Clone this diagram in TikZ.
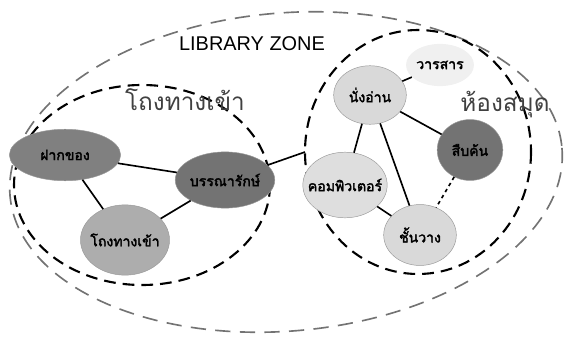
\documentclass[tikz,border=0pt]{standalone}
\usepackage{fontspec}
\newfontfamily\thaifont[Script=Thai,AutoFakeBold=2.5]{Loma}
\setmainfont{Liberation Sans}
\usetikzlibrary{shapes.geometric,positioning}
\newcommand{\spottext}[1]{\makebox[0pt]{#1}}
\tikzset{
  zone/.style={line width=1.8pt,dash pattern=on 10pt off 6pt},
  outerzone/.style={draw=black!55,line width=1.4pt,dash pattern=on 13pt off 8pt},
  spot/.style={ellipse,draw=black!40,thin,inner sep=0pt,font=\thaifont\bfseries\large},
  link/.style={line width=1.4pt}
}
\begin{document}
\begin{tikzpicture}[x=0.03cm,y=-0.03cm]
\useasboundingbox (0,0) rectangle (570,339);
% zones
\draw[outerzone,rotate around={5:(286,172)}] (286,172) ellipse (277 and 159);
\draw[zone] (142,185) ellipse (128 and 100);
\draw[zone] (418,152) ellipse (113 and 122);
\node[fill=white,inner sep=1pt,font=\fontsize{17}{20}\selectfont] (libzone) at (252,44) {LIBRARY ZONE};
\node[font=\thaifont\huge,text=black!75] (lobbylbl) at (185,100) {โถงทางเข้า};
\node[font=\thaifont\huge,text=black!75] (librarylbl) at (505,105) {ห้องสมุด};
% lobby
\node[spot,fill=black!50,minimum width=95,minimum height=44] (deposit) at (65,155) {\spottext{ฝากของ}};
\node[spot,fill=black!55,minimum width=85,minimum height=48] (librarian) at (225,180) {\spottext{บรรณารักษ์}};
\node[spot,fill=black!32,minimum width=76,minimum height=60] (entrance) at (125,240) {\spottext{โถงทางเข้า}};
% library
\node[spot,fill=black!15,minimum width=62,minimum height=50] (reading) at (370,95) {\spottext{นั่งอ่าน}};
\node[spot,fill=black!6,draw=none,minimum width=58,minimum height=36] (journal) at (440,65) {\spottext{วารสาร}};
\node[spot,fill=black!55,minimum width=56,minimum height=52] (search) at (470,150) {\spottext{สืบค้น}};
\node[spot,fill=black!13,minimum width=72,minimum height=56] (computer) at (345,185) {\spottext{คอมพิวเตอร์}};
\node[spot,fill=black!15,minimum width=62,minimum height=52] (shelf) at (420,235) {\spottext{ชั้นวาง}};
\coordinate (gate) at (305,152);
% links
\draw[link] (deposit) -- (librarian);
\draw[link] (deposit) -- (entrance);
\draw[link] (librarian) -- (entrance);
\draw[link] (librarian) -- (gate);
\draw[link] (reading) -- (journal);
\draw[link] (reading) -- (search);
\draw[link] (reading) -- (computer);
\draw[link] (reading) -- (shelf);
\draw[link] (computer) -- (shelf);
\draw[link,dashed] (search) -- (shelf);
\end{tikzpicture}
\end{document}
